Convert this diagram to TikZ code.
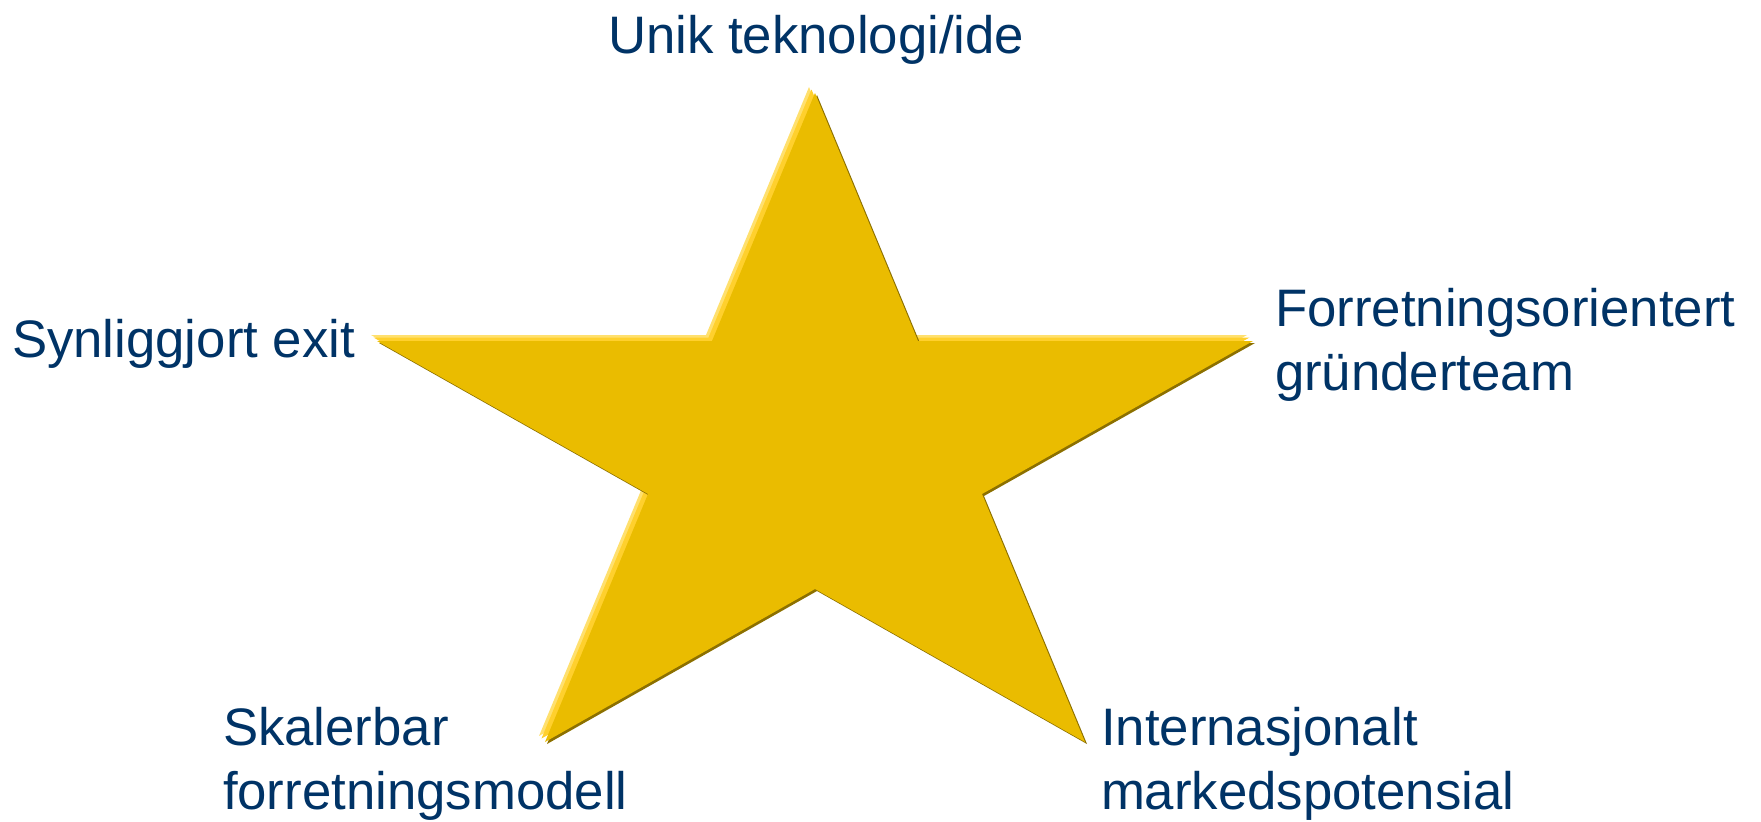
\documentclass[tikz,border=0pt]{standalone}
\usepackage{fontspec}
\setmainfont{Liberation Sans}
\definecolor{starfill}{RGB}{234,188,0}
\definecolor{starshadow}{RGB}{140,112,0}
\definecolor{starlight}{RGB}{255,224,110}
\definecolor{starlight2}{RGB}{255,208,45}
\definecolor{labelblue}{RGB}{0,51,102}
\tikzset{
  lbl/.style={inner sep=0pt, outer sep=0pt, text=labelblue, font=\fontsize{15}{18}\selectfont, align=left, anchor=base west},
}
\begin{document}
\begin{tikzpicture}[x=0.01cm,y=-0.01cm]
\useasboundingbox (0,0) rectangle (1761,821);
\def\starpath{(814,92) -- (917,340) -- (1252,340) -- (981,493) -- (1084,741) -- (814,588) -- (544,741) -- (647,493) -- (376,340) -- (711,340) -- cycle}
\fill[starlight, shift={(-5,-5)}] \starpath;
\fill[starlight2, shift={(-2.5,-2.5)}] \starpath;
\fill[starshadow, shift={(3,3)}] \starpath;
\fill[starfill, shift={(1,1)}] \starpath;
\node[lbl] (top) at (608,53) {Unik teknologi/ide};
\node[lbl] (left) at (12,357) {Synliggjort exit};
\node[lbl] (right) at (1275,390) {Forretningsorientert\\gründerteam};
\node[lbl] (bl) at (223,809) {Skalerbar\\forretningsmodell};
\node[lbl] (br) at (1101,809) {Internasjonalt\\markedspotensial};
\end{tikzpicture}
\end{document}
